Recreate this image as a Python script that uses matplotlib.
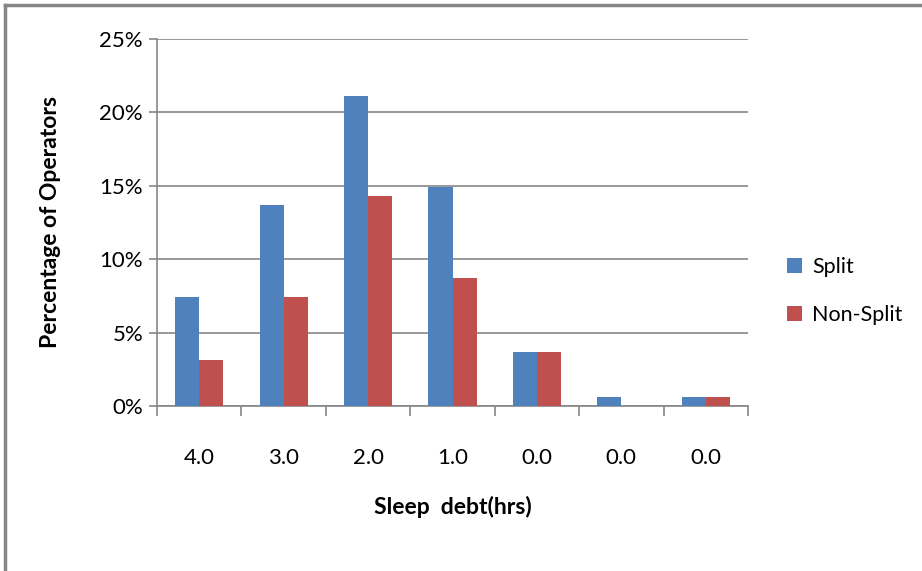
import matplotlib.pyplot as plt
import numpy as np
from matplotlib.lines import Line2D

# Data
categories = ['4.0', '3.0', '2.0', '1.0', '0.0', '0.0', '0.0']
split = [7.4, 13.7, 21.1, 14.9, 3.7, 0.6, 0.6]
non_split = [3.1, 7.4, 14.3, 8.7, 3.7, 0.0, 0.6]

plt.rcParams['font.family'] = ['Lato', 'DejaVu Sans']

fig = plt.figure(figsize=(9.22, 5.71), dpi=100)
ax = fig.add_axes([157 / 922, 1 - 406 / 571, 591 / 922, 367 / 571])

x = np.arange(len(categories))
w = 1 / 3.5
ax.bar(x - w / 2, split, w, color='#4f81bd', label='Split', zorder=3)
ax.bar(x + w / 2, non_split, w, color='#c0504d', label='Non-Split', zorder=3)

ax.set_xlim(-0.5, len(categories) - 0.5)
ax.set_ylim(0, 25)
ax.set_yticks(range(0, 26, 5))
ax.set_yticklabels([f'{v}%' for v in range(0, 26, 5)], fontsize=16)
ax.yaxis.grid(True, color='#868686', linewidth=1.2, zorder=0)

# category labels in the middle, tick marks on the boundaries
ax.set_xticks(x)
ax.set_xticklabels(categories, fontsize=16)
ax.set_xticks(np.arange(-0.5, len(categories)), minor=True)
ax.tick_params(axis='x', which='major', length=0, pad=30)
ax.tick_params(axis='x', which='minor', length=7, color='#868686', width=1.2)
ax.tick_params(axis='y', length=6, color='#868686', width=1.2, pad=4)

for s in ['top', 'right']:
    ax.spines[s].set_visible(False)
for s in ['left', 'bottom']:
    ax.spines[s].set_color('#868686')
    ax.spines[s].set_linewidth(1.2)

ax.set_ylabel('Percentage of Operators', fontsize=16.5, fontweight='bold', labelpad=28)
ax.set_xlabel('Sleep  debt(hrs)', fontsize=16.5, fontweight='bold', labelpad=20)

fig.legend(loc='center left', bbox_to_anchor=(768 / 922, 1 - 291 / 571), frameon=False,
           fontsize=15.5, handlelength=0.7, handleheight=0.7, labelspacing=1.3,
           handletextpad=0.45)

# outer chart border (only left and top edges are in the picture)
fig.add_artist(Line2D([5 / 922, 1], [1 - 5 / 571, 1 - 5 / 571], color='#868686', linewidth=2.5))
fig.add_artist(Line2D([5 / 922, 5 / 922], [0, 1 - 5 / 571], color='#868686', linewidth=2.5))

fig.savefig('out.png', dpi=100)
